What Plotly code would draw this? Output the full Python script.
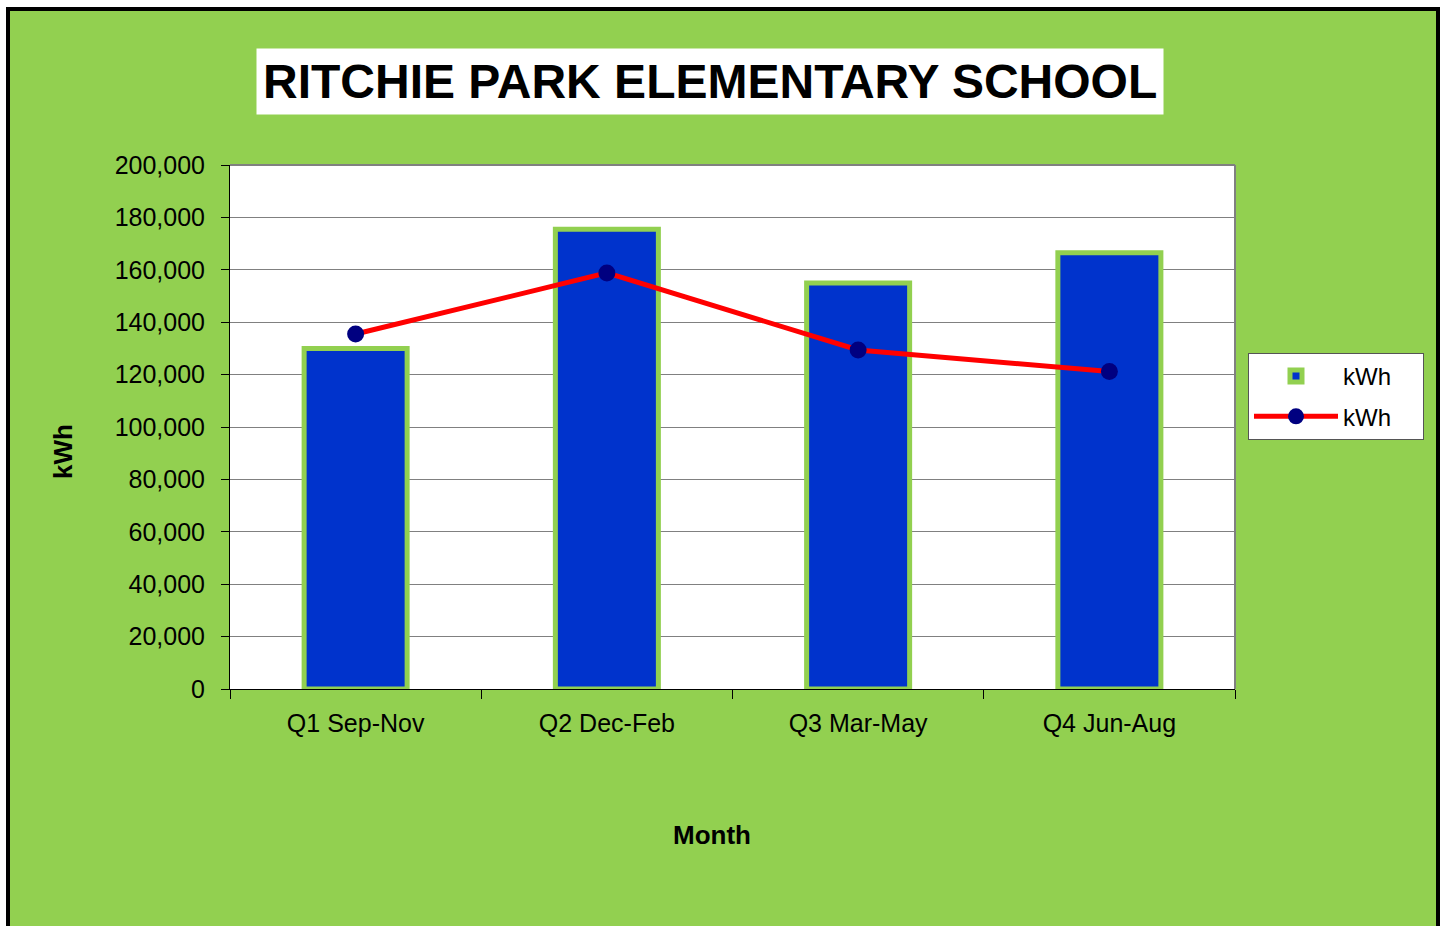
import plotly.graph_objects as go

categories = ["Q1 Sep-Nov", "Q2 Dec-Feb", "Q3 Mar-May", "Q4 Jun-Aug"]
bar_kwh = [130000, 175500, 155000, 166500]
line_kwh = [135500, 158800, 129400, 121200]
y_ticks = [0, 20000, 40000, 60000, 80000, 100000, 120000, 140000, 160000, 180000, 200000]

GREEN = "#92D050"
BLUE = "#0033CC"
RED = "#FF0000"
NAVY = "#000080"

W, H = 1444, 926
L, R, T, B = 230, 1235, 165, 689  # plot area in pixels
pw, ph = R - L, B - T

def px(x):
    return (x - L) / pw

def py(y):
    return (B - y) / ph

PAD = "\u00a0" * 4
fig = go.Figure()
fig.add_trace(go.Bar(
    x=categories, y=bar_kwh, name="kWh" + PAD, width=0.41, legendgroup="a",
    marker=dict(color=BLUE, line=dict(color=GREEN, width=5)),
))
fig.add_trace(go.Scatter(
    x=categories, y=line_kwh, name="kWh" + PAD, mode="lines+markers", legendgroup="b",
    line=dict(color=RED, width=5),
    marker=dict(color=NAVY, size=17, line=dict(width=0)),
))

font = "Liberation Sans, Arial"
shapes = [
    # white margins outside the frame
    dict(type="rect", xref="paper", yref="paper", x0=px(-10), x1=px(6), y0=py(-10), y1=py(H + 10),
         fillcolor="white", line=dict(width=0), layer="above"),
    dict(type="rect", xref="paper", yref="paper", x0=px(-10), x1=px(W + 10), y0=py(7), y1=py(-10),
         fillcolor="white", line=dict(width=0), layer="above"),
    dict(type="rect", xref="paper", yref="paper", x0=px(1440), x1=px(W + 10), y0=py(-10), y1=py(H + 10),
         fillcolor="white", line=dict(width=0), layer="above"),
    # black frame
    dict(type="rect", xref="paper", yref="paper", x0=px(8), x1=px(1438), y0=py(9), y1=py(H + 30),
         fillcolor="rgba(0,0,0,0)", line=dict(color="black", width=4), layer="above"),
    # plot area top/right border
    dict(type="line", xref="paper", yref="paper", x0=0, x1=1, y0=1, y1=1,
         line=dict(color="#808080", width=2), layer="above"),
    dict(type="line", xref="paper", yref="paper", x0=1, x1=1, y0=0, y1=1,
         line=dict(color="#808080", width=2), layer="above"),
]

annotations = [
    dict(text="<b>RITCHIE PARK ELEMENTARY SCHOOL</b>", xref="paper", yref="paper",
         x=px(710), y=py(81.5), xanchor="center", yanchor="middle", showarrow=False,
         font=dict(family=font, size=48, color="black"),
         bgcolor="white", borderpad=6),
    dict(text="<b>Month</b>", xref="paper", yref="paper", x=px(712), y=py(835),
         xanchor="center", yanchor="middle", showarrow=False,
         font=dict(family=font, size=26, color="black")),
    dict(text="<b>kWh</b>", xref="paper", yref="paper", x=px(63), y=py(452),
         xanchor="center", yanchor="middle", showarrow=False, textangle=-90,
         font=dict(family=font, size=26, color="black")),
]

fig.update_layout(
    width=W, height=H,
    margin=dict(l=L, r=W - R, t=T, b=H - B, pad=0),
    paper_bgcolor=GREEN, plot_bgcolor="white",
    showlegend=True,
    legend=dict(x=px(1248), y=py(353), xanchor="left", yanchor="top",
                bgcolor="white", bordercolor="#555555", borderwidth=1,
                font=dict(family=font, size=24, color="black"),
                itemwidth=84, tracegroupgap=6),
    shapes=shapes, annotations=annotations,
)
fig.update_xaxes(
    type="category", tickson="boundaries", ticks="outside", ticklen=9, tickcolor="black",
    showline=True, linecolor="black", linewidth=1, showgrid=False,
    tickfont=dict(family=font, size=25, color="black"), ticklabelstandoff=12,
)
fig.update_yaxes(
    range=[0, 200000], tickvals=y_ticks, tickformat=",", ticks="outside", ticklen=8,
    tickcolor="black", showline=True, linecolor="black", linewidth=1,
    showgrid=True, gridcolor="#808080", gridwidth=1, zeroline=False,
    tickfont=dict(family=font, size=25, color="black"), ticklabelstandoff=11,
)

fig.write_html(
    "out.html",
    config={"displayModeBar": False},
    post_script="document.body.style.margin='0';document.body.style.overflow='hidden';",
)
